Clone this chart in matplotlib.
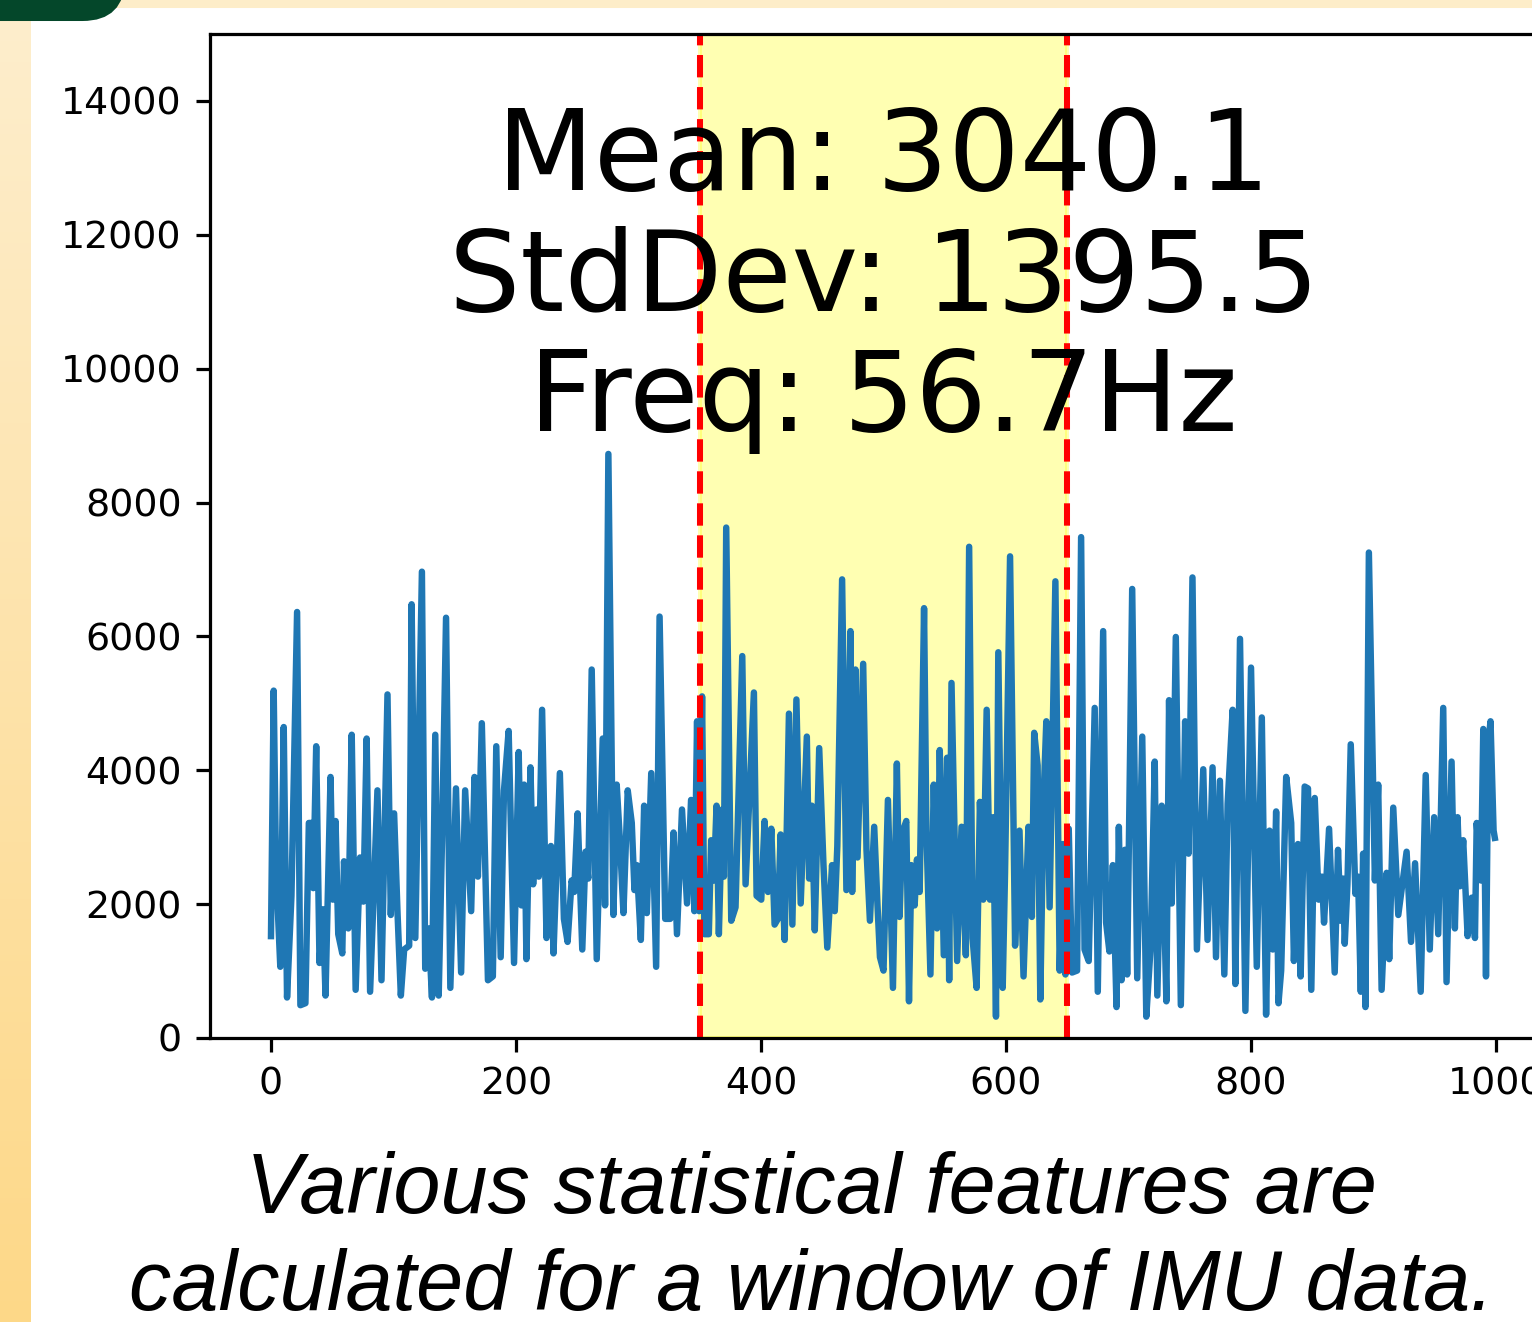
import numpy as np
import matplotlib
matplotlib.use("Agg")
import matplotlib.pyplot as plt
from matplotlib.patches import Rectangle, FancyBboxPatch

# IMU magnitude trace as (sample, value) turning points
SEG_0_160 = [(0, 1522), (2.2, 5190), (4.1, 2525), (7.6, 1064), (10.4, 4646), (13.1, 605),
             (16.7, 2124), (21.3, 6365), (24.0, 490), (28.1, 520), (30.9, 3213), (33.6, 3213),
             (34.5, 2239), (36.9, 4359), (39.6, 1121), (42.4, 1924), (44.5, 634), (48.6, 3900),
             (50.5, 2067), (52.7, 3242), (54.9, 1551), (58.2, 1264), (59.6, 2640), (63.1, 1637),
             (65.9, 4531), (69.1, 720), (72.7, 2697), (75.4, 2038), (78.1, 4474), (80.9, 691),
             (86.9, 3700), (90.2, 863), (95.1, 5133), (97.8, 1838), (100.5, 3356), (103.3, 1866),
             (106.0, 634), (108.7, 1322), (112.8, 1379), (114.8, 6480), (117.8, 1494), (123.2, 6967),
             (125.9, 1035), (128.7, 1637), (131.4, 605), (134.1, 4531), (136.9, 634), (139.6, 2955),
             (142.9, 6279), (146.4, 749), (151.0, 3729), (155.2, 978), (158.5, 3700)]
SEG_160_330 = [(163.4, 1895), (166.1, 3900), (168.9, 2411), (172.1, 4703), (177.1, 863), (181.1, 920),
               (183.9, 4359), (187.5, 1207), (190.2, 3700), (194.0, 4588), (198.4, 1121), (202.2, 4273),
               (204.4, 1981), (206.6, 3786), (208.5, 1178), (211.8, 4044), (214.0, 2296), (216.7, 3414),
               (218.6, 2411), (221.3, 4904), (224.9, 1494), (228.5, 2869), (230.6, 1264), (235.8, 3958),
               (239.1, 1780), (242.1, 1436), (245.4, 2353), (247.5, 2182), (250.3, 3356), (254.1, 1322),
               (256.8, 2783), (259.0, 2382), (261.8, 5505), (265.9, 1178), (270.8, 4474), (272.7, 1981),
               (275.4, 8726), (279.5, 1838), (282.2, 3786), (284.9, 2926), (287.7, 1866), (291.2, 3700),
               (294.5, 3213), (296.7, 2210), (298.6, 2583), (301.9, 1465), (304.6, 3471), (306.8, 1866),
               (310.4, 3958), (314.4, 1064), (317.2, 6296), (321.8, 1780), (325.9, 1780), (328.6, 3070)]
SEG_330_500 = [(331.4, 1551), (335.5, 3414), (339.6, 2010), (342.9, 3557), (345.6, 1895), (347.8, 4732),
               (349.5, 1895), (351.9, 5104), (353.8, 1551), (357.4, 1551), (359.3, 2955), (361.5, 2353),
               (363.7, 3471), (365.6, 1551), (368.3, 3414), (369.7, 2411), (371.6, 7626), (375.7, 1752),
               (379.2, 1952), (384.7, 5706), (387.4, 2296), (394.2, 5162), (396.4, 2124), (400.2, 2067),
               (402.9, 3242), (405.7, 2182), (408.4, 3127), (411.1, 1694), (413.8, 1780), (416.0, 3041),
               (419.3, 1465), (422.8, 4846), (425.6, 1694), (428.9, 5058), (432.4, 2010), (437.4, 4503),
               (439.3, 2382), (441.5, 3471), (443.9, 1608), (447.5, 4331), (451.0, 2583), (454.1, 1351),
               (458.0, 2583), (460.2, 1895), (462.3, 2869), (466.2, 6852), (469.7, 2210), (473.0, 6079),
               (474.4, 2182), (477.1, 5505), (478.8, 2697), (483.4, 5591), (486.1, 2812), (488.9, 1752),
               (492.4, 3156), (495.1, 1981), (497.1, 1207)]
SEG_500_665 = [(500.0, 1007), (503.6, 3557), (507.7, 749), (510.9, 4101), (513.1, 1809), (515.3, 3070),
               (518.6, 3242), (520.8, 548), (522.7, 2583), (525.4, 1981), (527.3, 2669), (529.5, 2182),
               (533.1, 6422), (535.0, 3098), (538.3, 949), (541.0, 3786), (543.7, 1637), (545.9, 4302),
               (549.2, 1236), (551.9, 4187), (553.6, 863), (555.5, 5305), (560.1, 1150), (563.7, 3156),
               (567.2, 1236), (569.9, 7339), (572.7, 1494), (576.0, 749), (578.7, 3528), (581.4, 2067),
               (584.2, 4904), (586.9, 2067), (589.6, 3299), (591.8, 319), (593.7, 5763), (597.3, 749),
               (599.2, 2468), (603.3, 7196), (607.4, 1379), (611.0, 3098), (614.3, 920), (618.3, 3156),
               (621.1, 1809), (623.0, 4560), (625.8, 4073), (628.0, 576), (630.7, 3614), (632.9, 4732),
               (635.6, 1952), (640.3, 6823), (643.8, 1007), (646.5, 2898), (648.5, 949), (651.2, 3127),
               (653.9, 978), (658.0, 1007), (661.3, 7483), (664.1, 1322)]
SEG_665_835 = [(667.5, 1150), (672.4, 4932), (674.9, 691), (679.3, 6079), (681.7, 1723), (684.4, 1293),
               (687.2, 2583), (690.2, 462), (692.1, 3156), (694.3, 863), (697.0, 2812), (698.9, 949),
               (703.0, 6709), (707.1, 892), (711.2, 4503), (714.5, 319), (718.1, 1379), (721.4, 4130),
               (723.5, 634), (727.1, 3471), (730.9, 548), (733.1, 5047), (735.3, 2010), (738.6, 5992),
               (742.7, 491), (746.2, 4732), (749.0, 2754), (752.2, 6881), (755.8, 1322), (761.0, 4015),
               (764.5, 1465), (768.6, 4044), (771.4, 1207), (774.6, 3844), (778.2, 949), (780.9, 3500),
               (785.0, 4904), (787.2, 806), (791.0, 5964), (795.4, 405), (800.0, 5534), (804.7, 1064),
               (808.8, 4789), (812.3, 348), (815.1, 3098), (817.8, 1322), (820.5, 3385), (822.4, 519),
               (824.6, 1007), (828.7, 3901), (832.8, 3213)]
SEG_835_1000 = [(835.0, 1150), (838.3, 2898), (840.5, 920), (843.8, 3757), (846.5, 3729), (849.2, 720),
                (852.0, 3586), (855.2, 2067), (857.9, 2411), (859.6, 1723), (863.7, 3127), (868.3, 978),
                (871.0, 2812), (873.2, 1752), (875.1, 2382), (876.5, 1408), (878.7, 2296), (881.4, 4388),
                (885.2, 2153), (887.4, 2411), (889.6, 691), (891.5, 2754), (893.4, 462), (896.2, 7253),
                (901.1, 2353), (903.8, 3786), (906.6, 720), (910.7, 2468), (912.8, 1178), (916.1, 3442),
                (920.2, 1838), (927.0, 2783), (930.6, 1436), (933.9, 2611), (938.5, 691), (942.6, 3929),
                (945.9, 1322), (949.5, 3299), (952.8, 1551), (956.9, 4932), (959.6, 835), (963.7, 4130),
                (966.4, 1637), (968.6, 3299), (970.5, 2267), (973.2, 2955), (976.8, 1522), (980.1, 2096),
                (982.8, 1494), (984.2, 3213), (987.7, 2353), (989.6, 4617), (991.8, 920), (993.7, 4416),
                (995.5, 4732), (998.0, 3100), (999.0, 2990)]

WINDOW = (350, 650)
STATS = ["Mean: 3040.1", "StdDev: 1395.5", "Freq: 56.7Hz"]
CAPTION = ["Various statistical features are", "calculated for a window of IMU data."]

pts = SEG_0_160 + SEG_160_330 + SEG_330_500 + SEG_500_665 + SEG_665_835 + SEG_835_1000
xs = np.array([p[0] for p in pts])
ys = np.array([p[1] for p in pts])

W, H, DPI = 1532, 1322, 290
fig = plt.figure(figsize=(W / DPI, H / DPI), dpi=DPI, facecolor="white")

# slide frame bits around the chart
fh = H / DPI
fig.patches.append(Rectangle((0, fh - 6 / DPI), W / DPI, 6 / DPI, transform=fig.dpi_scale_trans,
                             color="#fdedc9", zorder=0))
strip = fig.add_axes([0, 0, 31 / W, 1])
grad = np.linspace(0, 1, 256)[:, None]
top_c, bot_c = np.array([253, 238, 205]) / 255, np.array([253, 216, 136]) / 255
strip.imshow(top_c + (bot_c - top_c) * grad[:, :, None], aspect="auto")
strip.axis("off")
fig.patches.append(FancyBboxPatch((-0.6, fh - 19 / DPI), 0.6 + 123 / DPI, 1.0,
                                  boxstyle="round,pad=0,rounding_size=0.14",
                                  transform=fig.dpi_scale_trans, color="#04472a", zorder=3))

ax = fig.add_axes([209.8 / W, (H - 1038) / H, (1556 - 209.8) / W, (1038 - 34) / H])
ax.plot(xs, ys, color="tab:blue", lw=1.6)
ax.axvspan(*WINDOW, color="yellow", alpha=0.3)
for xv in WINDOW:
    ax.axvline(xv, color="r", ls="--")
ax.set_ylim(0, 15000)
ax.set_yticks(range(0, 15000, 2000))
ax.tick_params(labelsize=9.4)
ax.text(500, 11330, "\n".join(STATS), ha="center", va="center", fontsize=27.9, linespacing=1.15)

fig.text(812 / W, 1 - 1213 / H, CAPTION[0], ha="center", va="baseline", fontsize=21,
         style="italic", family="Liberation Sans")
fig.text(811 / W, 1 - 1310 / H, CAPTION[1], ha="center", va="baseline", fontsize=21,
         style="italic", family="Liberation Sans")

fig.savefig("out.png", dpi=DPI)
